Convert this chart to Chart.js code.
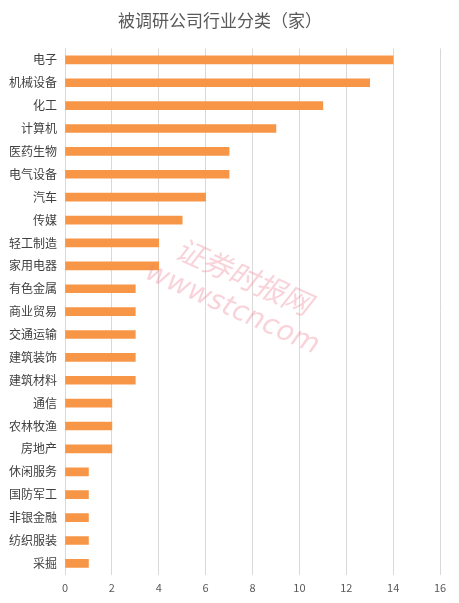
<!DOCTYPE html>
<html>
<head>
<meta charset="utf-8">
<script src="https://cdn.jsdelivr.net/npm/chart.js@4"></script>
<style>
  html, body { margin: 0; padding: 0; background: #fff; }
  #wrap { width: 459px; height: 603px; }
</style>
</head>
<body>
<div id="wrap"><canvas id="chart" width="459" height="603"></canvas></div>
<script>
const categories = ['电子', '机械设备', '化工', '计算机', '医药生物', '电气设备', '汽车', '传媒',
  '轻工制造', '家用电器', '有色金属', '商业贸易', '交通运输', '建筑装饰', '建筑材料', '通信',
  '农林牧渔', '房地产', '休闲服务', '国防军工', '非银金融', '纺织服装', '采掘'];
const companyCounts = [14, 13, 11, 9, 7, 7, 6, 5, 4, 4, 3, 3, 3, 3, 3, 2, 2, 2, 1, 1, 1, 1, 1];
const xTicks = [0, 2, 4, 6, 8, 10, 12, 14, 16];

const FONT = '"Microsoft YaHei", "Noto Sans CJK SC", sans-serif';

// faint site watermark over the plot
const watermark = {
  id: 'watermark',
  afterDraw(chart) {
    const ctx = chart.ctx;
    ctx.save();
    ctx.fillStyle = 'rgba(235, 120, 140, 0.33)';
    ctx.translate(240, 292);
    ctx.rotate(0.42);
    ctx.textAlign = 'center';
    ctx.textBaseline = 'middle';
    ctx.font = 'italic 29px ' + FONT;
    ctx.fillText('证券时报网', -3, -16);
    ctx.font = 'italic 28px "DejaVu Sans", sans-serif';
    ctx.fillText('wwwstcncom', 0, 19);
    ctx.restore();
  }
};

new Chart(document.getElementById('chart').getContext('2d'), {
  type: 'bar',
  data: {
    labels: categories,
    datasets: [{
      data: companyCounts,
      backgroundColor: '#F79646',
      barThickness: 8
    }]
  },
  options: {
    indexAxis: 'y',
    responsive: false,
    animation: false,
    layout: { padding: { left: 0, right: 19, top: 4, bottom: 3 } },
    plugins: {
      legend: { display: false },
      tooltip: { enabled: false },
      title: {
        display: true,
        text: '被调研公司行业分类（家）',
        color: '#595959',
        font: { family: FONT, size: 17, weight: 'normal' },
        padding: { top: 6, bottom: 18 }
      }
    },
    scales: {
      x: {
        min: 0,
        max: 16,
        afterBuildTicks(axis) { axis.ticks = xTicks.map(v => ({ value: v })); },
        grid: { color: '#D9D9D9', drawTicks: false },
        border: { display: false },
        ticks: { color: '#595959', padding: 6, font: { family: FONT, size: 11 } }
      },
      y: {
        afterFit(axis) { axis.width = 65; },
        grid: { display: false, drawTicks: false },
        border: { display: true, color: '#D9D9D9' },
        ticks: { color: '#404040', padding: 8, autoSkip: false, font: { family: FONT, size: 12 } }
      }
    }
  },
  plugins: [watermark]
});
</script>
</body>
</html>
